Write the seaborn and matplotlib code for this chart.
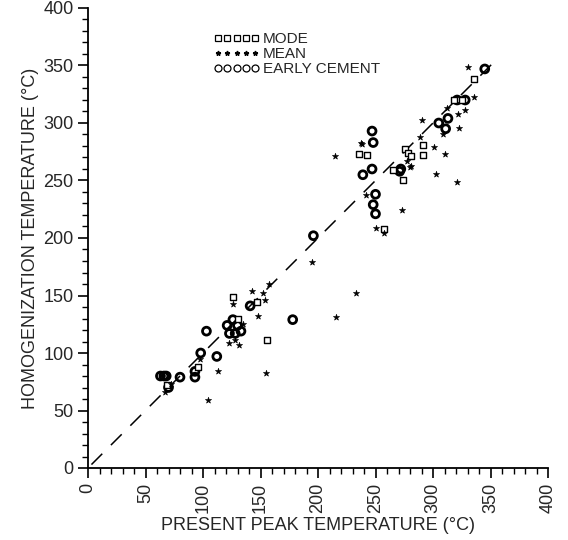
import matplotlib
matplotlib.use("Agg")
import matplotlib.pyplot as plt
from matplotlib.lines import Line2D
from matplotlib.ticker import MultipleLocator
import seaborn as sns
import pandas as pd

# Mode (open squares)
mode_x = [126, 147, 156, 236, 257, 276, 278, 281, 291, 291, 274, 265, 336, 318, 325, 96, 69, 130, 243]
mode_y = [149, 144, 111, 273, 208, 277, 274, 271, 281, 272, 250, 259, 338, 320, 320, 88, 72, 130, 272]

# Mean (small stars)
mean_x = [67, 104, 113, 123, 128, 131, 126, 148, 143, 152, 157, 154, 155, 195, 216, 233,
          215, 237, 242, 250, 238, 273, 257, 277, 281, 301, 310, 303, 321, 289, 290, 309,
          312, 322, 328, 323, 330, 336, 280, 72, 135, 97]
mean_y = [66, 59, 84, 109, 111, 107, 143, 132, 154, 152, 160, 146, 83, 179, 131, 152,
          271, 283, 237, 209, 282, 224, 204, 267, 263, 279, 273, 256, 249, 288, 303, 290,
          313, 308, 311, 296, 349, 323, 262, 73, 125, 95]

# Early cement (open circles)
cem_x = [63, 66, 68, 70, 80, 93, 93, 98, 103, 112, 121, 126, 130, 123, 128, 133, 141, 178,
         196, 247, 248, 247, 239, 250, 248, 250, 271, 272, 305, 311, 313, 321, 328, 345]
cem_y = [80, 80, 80, 70, 79, 79, 84, 100, 119, 97, 124, 129, 124, 117, 117, 119, 141, 129,
         202, 293, 283, 260, 255, 238, 229, 221, 258, 260, 300, 295, 304, 320, 320, 347]

ticks = [0, 50, 100, 150, 200, 250, 300, 350, 400]
xlabel = "PRESENT PEAK TEMPERATURE (°C)"
ylabel = "HOMOGENIZATION TEMPERATURE (°C)"
legend_labels = ["MODE", "MEAN", "EARLY CEMENT"]

sns.set_style("ticks")
plt.rcParams["font.family"] = ["Liberation Sans", "DejaVu Sans"]

fig = plt.figure(figsize=(5.68, 5.40), dpi=100)
ax = fig.add_axes([88 / 568, 72 / 540, 460 / 568, 460 / 540])

df_mode = pd.DataFrame({"x": mode_x, "y": mode_y})
df_mean = pd.DataFrame({"x": mean_x, "y": mean_y})
df_cem = pd.DataFrame({"x": cem_x, "y": cem_y})

ax.plot([3, 355], [3, 355], color="black", lw=1.1, dashes=(10, 8), zorder=1)

sns.scatterplot(data=df_cem, x="x", y="y", ax=ax, marker="o", s=32,
                facecolor="none", edgecolor="black", linewidth=2.0, zorder=3)
sns.scatterplot(data=df_mode, x="x", y="y", ax=ax, marker="s", s=15,
                facecolor="white", edgecolor="black", linewidth=1.0, zorder=4)
sns.scatterplot(data=df_mean, x="x", y="y", ax=ax, marker="*", s=22,
                color="black", linewidth=0.4, edgecolor="black", zorder=5)

ax.set_xlim(0, 400)
ax.set_ylim(0, 400)
ax.set_xticks(ticks)
ax.set_yticks(ticks)
ax.xaxis.set_minor_locator(MultipleLocator(10))
ax.yaxis.set_minor_locator(MultipleLocator(10))
ax.tick_params(which="major", direction="out", length=7, width=1.2, labelsize=13, color="black")
ax.tick_params(which="minor", direction="out", length=4, width=1.0, color="black")
ax.tick_params(axis="x", labelrotation=90)
for s in ["left", "bottom"]:
    ax.spines[s].set_linewidth(1.3)
    ax.spines[s].set_color("black")
sns.despine(ax=ax)

ax.set_xlabel(xlabel, fontsize=13, labelpad=3)
ax.set_ylabel(ylabel, fontsize=13, labelpad=3)

handles = [
    Line2D([], [], marker="s", ls="none", markersize=4, markerfacecolor="white",
           markeredgecolor="black", markeredgewidth=0.9),
    Line2D([], [], marker="*", ls="none", markersize=3.5, color="black"),
    Line2D([], [], marker="o", ls="none", markersize=5, markerfacecolor="none",
           markeredgecolor="black", markeredgewidth=0.9),
]
leg = ax.legend(handles, legend_labels, numpoints=5, frameon=False, fontsize=11,
                loc="upper left", bbox_to_anchor=(0.25, 0.97), handlelength=3.0,
                handletextpad=0.2, labelspacing=0.05, borderpad=0.2)

fig.savefig("out.png", dpi=100)
